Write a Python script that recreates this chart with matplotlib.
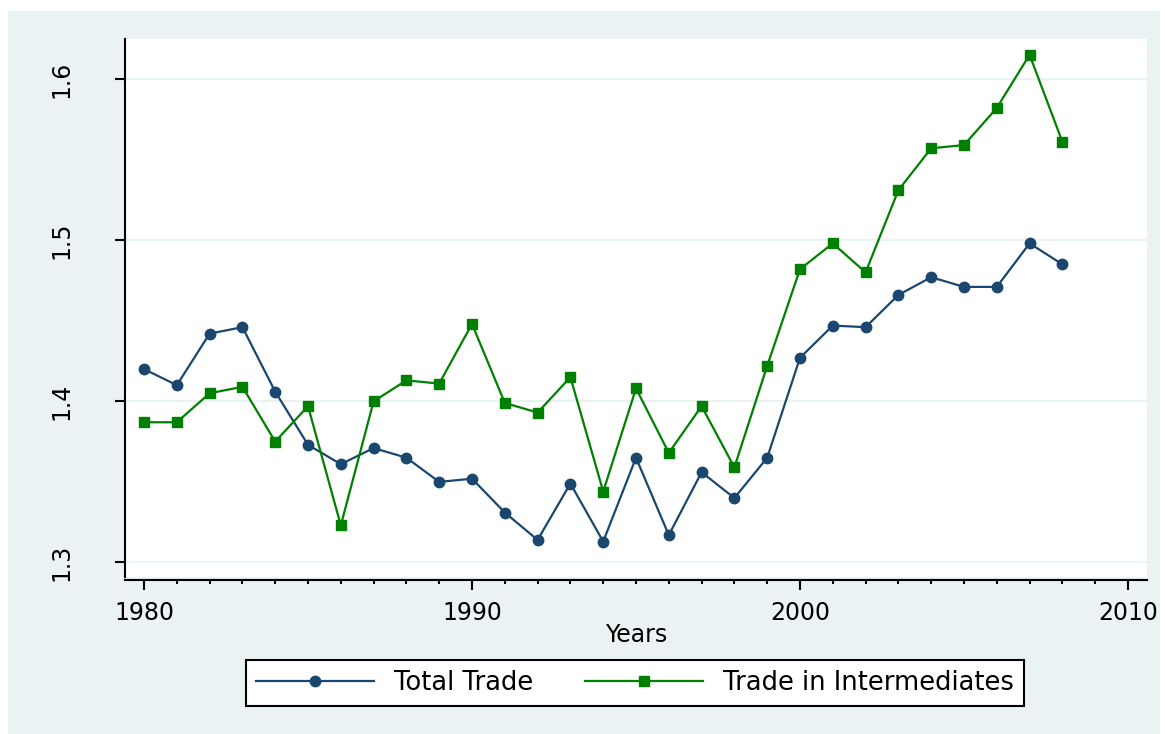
import numpy as np
import matplotlib
matplotlib.use('Agg')
import matplotlib.pyplot as plt
from matplotlib.patches import Rectangle
from matplotlib.ticker import MultipleLocator

plt.rcParams['font.family'] = ['DejaVu Sans']

years = list(range(1980, 2009))

total_trade = [1.420, 1.410, 1.442, 1.446, 1.406, 1.373, 1.361, 1.371, 1.365, 1.350,
               1.352, 1.331, 1.314, 1.349, 1.313, 1.365, 1.317, 1.356, 1.340, 1.365,
               1.427, 1.447, 1.446, 1.466, 1.477, 1.471, 1.471, 1.498, 1.485]

intermediates = [1.387, 1.387, 1.405, 1.409, 1.375, 1.397, 1.323, 1.400, 1.413, 1.411,
                 1.448, 1.399, 1.393, 1.415, 1.344, 1.408, 1.368, 1.397, 1.359, 1.422,
                 1.482, 1.498, 1.480, 1.531, 1.557, 1.559, 1.582, 1.615, 1.561]

W, H = 1165, 734
fig = plt.figure(figsize=(W / 100, H / 100), dpi=100)
fig.patch.set_facecolor('white')

# outer graph region (Stata style)
bg = '#EAF2F3'
fig.patches.append(Rectangle((8 / W, 0), (1160 - 8) / W, 1 - 11 / H,
                             transform=fig.transFigure, facecolor=bg,
                             edgecolor='none', zorder=-10))

ax = fig.add_axes([125 / W, 1 - 577 / H, (1147 - 125) / W, (577 - 39) / H])
ax.set_facecolor('white')

navy = '#1A476F'
green = '#008000'

ax.plot(years, total_trade, color=navy, lw=1.6, marker='o', ms=7.5,
        label='Total Trade', zorder=3)
ax.plot(years, intermediates, color=green, lw=1.6, marker='s', ms=7.5,
        label='Trade in Intermediates', zorder=3)

ax.set_xlim(1979.42, 2010.58)
ax.set_ylim(1.291, 1.6248)
ax.set_xticks([1980, 1990, 2000, 2010])
ax.xaxis.set_minor_locator(MultipleLocator(1))
ax.set_yticks([1.3, 1.4, 1.5, 1.6])
ax.set_yticklabels(['1.3', '1.4', '1.5', '1.6'], rotation=90, va='center')

ax.grid(axis='y', color=bg, lw=1.5, zorder=0)
ax.spines['top'].set_visible(False)
ax.spines['right'].set_visible(False)
ax.spines['left'].set_linewidth(1.5)
ax.spines['bottom'].set_linewidth(1.5)
ax.spines['bottom'].set_position(('outward', 2))
ax.tick_params(axis='x', which='major', length=7, width=1.5, labelsize=17, pad=8)
ax.tick_params(axis='x', which='minor', length=3, width=1.5)
ax.tick_params(axis='y', which='major', length=7, width=1.5, labelsize=17, pad=30)

fig.text(636 / W, 1 - 635 / H, 'Years', ha='center', va='center', fontsize=17)

handles, labels = ax.get_legend_handles_labels()
leg = fig.legend(handles, labels, loc='center', ncol=2,
                 bbox_to_anchor=(635 / W, 1 - 683 / H), fontsize=18.5,
                 handlelength=4.6, numpoints=1, fancybox=False,
                 edgecolor='black', framealpha=1, columnspacing=2.0,
                 handletextpad=0.78, borderpad=0.4)
leg.get_frame().set_linewidth(1.5)

fig.savefig('out.png', dpi=100, facecolor=fig.get_facecolor())
